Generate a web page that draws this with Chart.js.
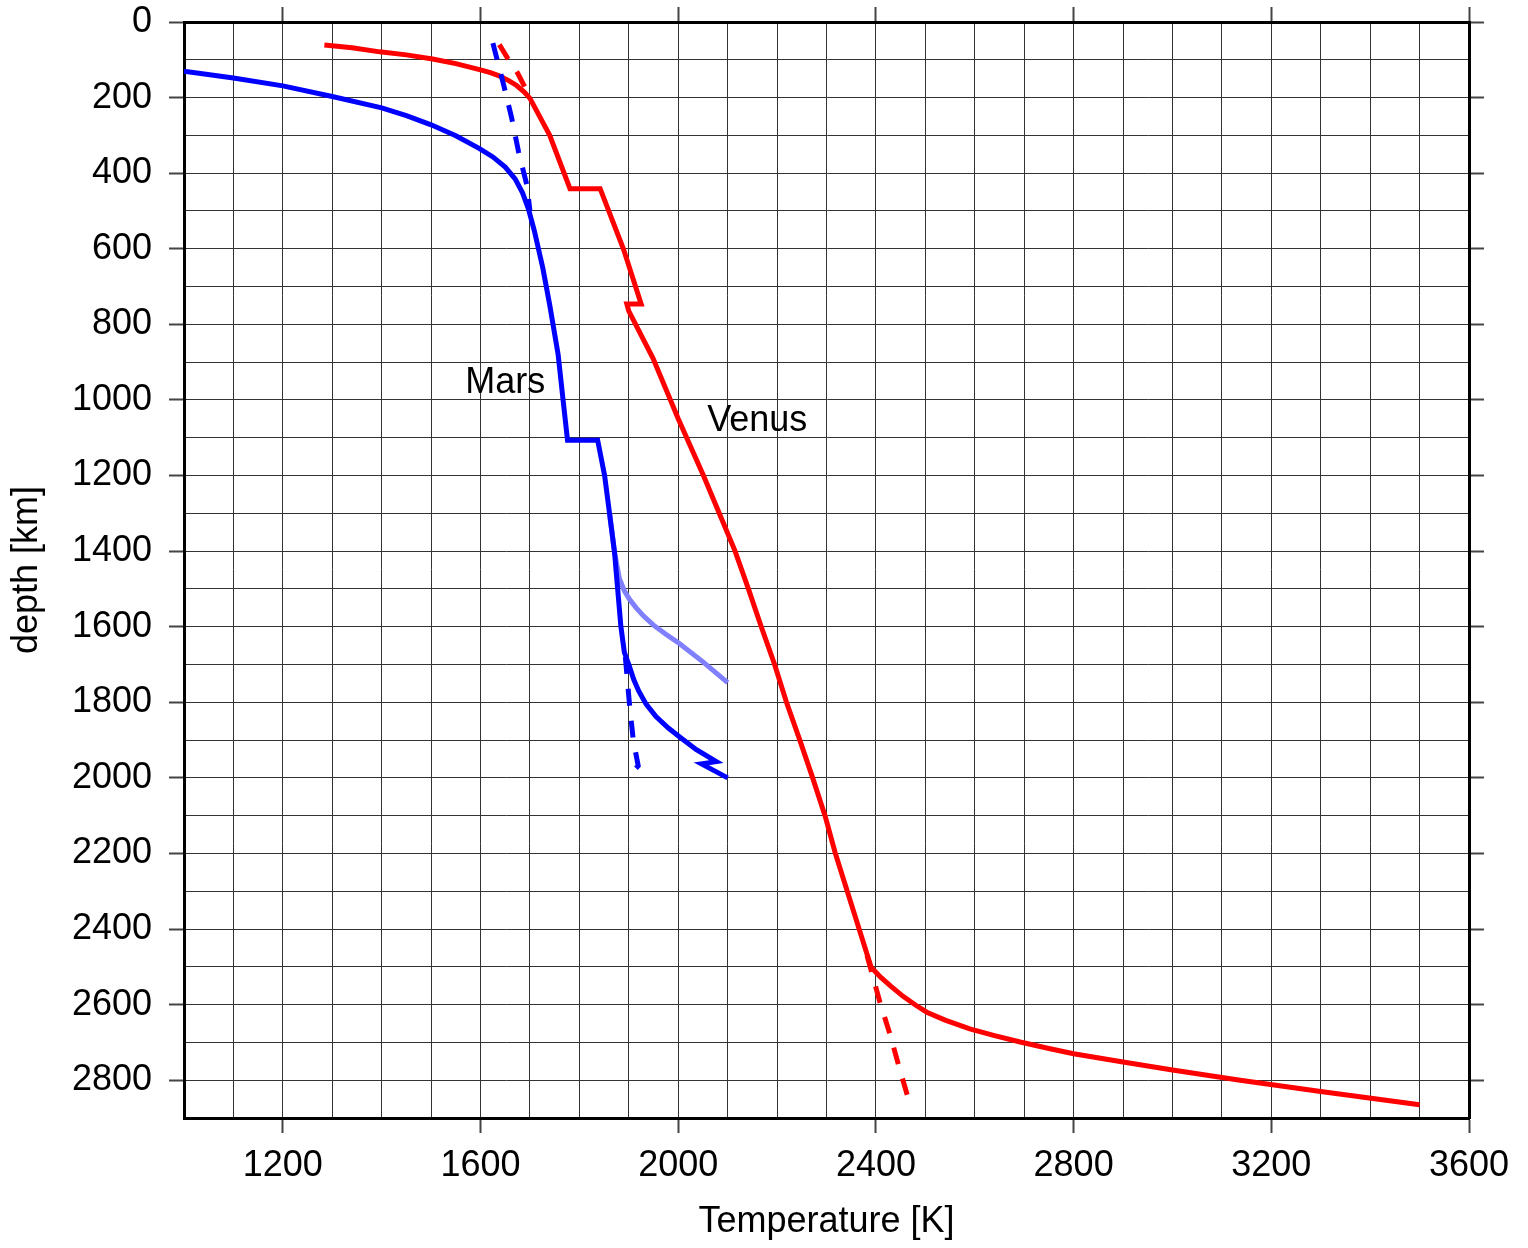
<!DOCTYPE html>
<html>
<head>
<meta charset="utf-8">
<title>Mars / Venus temperature profiles</title>
<script src="https://cdn.jsdelivr.net/npm/chart.js@4.4.0/dist/chart.umd.min.js"></script>
<style>
  html, body { margin: 0; padding: 0; background: #fff; }
  #wrap { width: 1528px; height: 1248px; }
</style>
</head>
<body>
<div id="wrap"><canvas id="chart" width="1528" height="1248"></canvas></div>
<script>
// temperature [K] / depth [km]
var mars_temp = [1000, 1100, 1200, 1300, 1400, 1450, 1500, 1550, 1598, 1625, 1650, 1670, 1685, 1697, 1709, 1726, 1740, 1757, 1767, 1776, 1837, 1851, 1861, 1871, 1884, 1891, 1900, 1910, 1920, 1935, 1955, 1980, 2003, 2036, 2077, 2047, 2100];
var mars_depth = [130, 148, 169, 197, 227, 248, 272, 301, 335, 357, 384, 415, 452, 495, 553, 651, 749, 880, 1000, 1107, 1107, 1200, 1300, 1402, 1600, 1668, 1700, 1740, 1770, 1805, 1838, 1868, 1892, 1925, 1957, 1963, 2000];

var mars_alt_temp = [1861, 1871, 1881, 1891, 1901, 1915, 1930, 1950, 1975, 2003, 2050, 2100];
var mars_alt_depth = [1300, 1402, 1473, 1505, 1527, 1550, 1572, 1596, 1620, 1645, 1693, 1748];

var mars_top_adiabat_temp = [1625, 1647, 1663, 1677, 1694, 1700];
var mars_top_adiabat_depth = [56, 168, 254, 344, 433, 500];
var mars_bottom_adiabat_temp = [1893, 1901, 1909, 1919, 1898];
var mars_bottom_adiabat_depth = [1680, 1800, 1900, 1968, 1998];

var venus_temp = [1284, 1340, 1396, 1450, 1503, 1550, 1598, 1620, 1639, 1657, 1673, 1688, 1700, 1740, 1781, 1842, 1889, 1925, 1896, 1900, 1949, 2000, 2051, 2083, 2115, 2142, 2168, 2195, 2219, 2246, 2272, 2297, 2318, 2342, 2366, 2390, 2398, 2410, 2430, 2455, 2480, 2503, 2540, 2590, 2640, 2692, 2750, 2800, 2900, 3000, 3137, 3300, 3500];
var venus_depth = [61, 68, 79, 87, 98, 110, 126, 134, 143, 155, 168, 185, 202, 300, 441, 441, 600, 746, 746, 765, 890, 1050, 1200, 1300, 1400, 1500, 1600, 1700, 1800, 1900, 2000, 2100, 2200, 2300, 2400, 2500, 2512, 2528, 2551, 2578, 2601, 2620, 2641, 2664, 2682, 2699, 2716, 2730, 2752, 2773, 2800, 2830, 2865];

var venus_top_adiabat_temp = [1638, 1655, 1675, 1692, 1700];
var venus_top_adiabat_depth = [60, 96, 135, 178, 203];
var venus_bottom_adiabat_temp = [2382, 2408, 2429, 2446, 2468];
var venus_bottom_adiabat_depth = [2470, 2593, 2681, 2761, 2860];

var label_names = ["Mars", "Venus"];
var label_temps = [1650, 2160];
var label_depths = [955, 1055];

var temp_min = 1000, temp_max = 3600, temp_step = 100, temp_label_step = 400;
var depth_min = 0, depth_max = 2900, depth_step = 100, depth_label_step = 200;

var font_family = '"Liberation Sans", Arial, Helvetica, sans-serif';

var to_points = function(xs, ys) {
  var pts = [];
  for (var i = 0; i < xs.length; i++) {
    pts.push({x: xs[i], y: ys[i]});
  }
  return pts;
};

var make_line = function(xs, ys, color, width, dash) {
  return {
    data: to_points(xs, ys),
    showLine: true,
    fill: false,
    tension: 0,
    borderColor: color,
    backgroundColor: color,
    borderWidth: width,
    borderDash: dash || [],
    borderCapStyle: "butt",
    borderJoinStyle: "miter",
    pointRadius: 0,
    pointHoverRadius: 0
  };
};

var temp_labeled = function(v) {
  return v % temp_label_step === 0 && v !== temp_min;
};
var depth_labeled = function(v) {
  return v % depth_label_step === 0;
};

var tick_color = function(test) {
  return function(c) {
    return (c.tick && test(c.tick.value)) ? "#444" : "rgba(0,0,0,0)";
  };
};

// fixed axis sizes so the plot frame sits where the original one is
var fix_size = function(prop, size) {
  return function(scale) {
    scale[prop] = size;
    scale.paddingTop = 0;
    scale.paddingBottom = 0;
    scale.paddingLeft = 0;
    scale.paddingRight = 0;
  };
};

// draws the "Mars" / "Venus" texts at data positions
var curve_labels_plugin = {
  id: "curve_labels",
  afterDatasetsDraw: function(chart) {
    var ctx = chart.ctx;
    ctx.save();
    ctx.font = "36px " + font_family;
    ctx.fillStyle = "#000";
    ctx.textAlign = "center";
    ctx.textBaseline = "middle";
    for (var i = 0; i < label_names.length; i++) {
      ctx.fillText(label_names[i],
        chart.scales.x.getPixelForValue(label_temps[i]),
        chart.scales.y.getPixelForValue(label_depths[i]));
    }
    ctx.restore();
  }
};

// dataset 0 is drawn on top
var datasets = [
  make_line(mars_top_adiabat_temp, mars_top_adiabat_depth, "#0000ff", 5, [17, 15]),
  make_line(mars_bottom_adiabat_temp, mars_bottom_adiabat_depth, "#0000ff", 5, [17, 15]),
  make_line(venus_top_adiabat_temp, venus_top_adiabat_depth, "#ff0000", 5, [17, 15]),
  make_line(venus_bottom_adiabat_temp, venus_bottom_adiabat_depth, "#ff0000", 5, [17, 15]),
  make_line(mars_temp, mars_depth, "#0000ff", 5),
  make_line(mars_alt_temp, mars_alt_depth, "#8080ff", 5),
  make_line(venus_temp, venus_depth, "#ff0000", 5)
];

var chart = new Chart("chart", {
  type: "scatter",
  data: { datasets: datasets },
  plugins: [curve_labels_plugin],
  options: {
    responsive: false,
    animation: false,
    devicePixelRatio: 1,
    layout: { padding: 0 },
    plugins: {
      legend: { display: false },
      tooltip: { enabled: false }
    },
    scales: {
      x: {
        type: "linear",
        position: "bottom",
        min: temp_min,
        max: temp_max,
        afterFit: fix_size("height", 130),
        ticks: {
          stepSize: temp_step,
          autoSkip: false,
          maxRotation: 0,
          padding: 11,
          color: "#000",
          font: { family: font_family, size: 36 },
          callback: function(v) { return temp_labeled(v) ? String(v) : ""; }
        },
        grid: {
          color: "#333",
          lineWidth: 1,
          tickLength: 15,
          tickWidth: 2,
          tickColor: tick_color(temp_labeled)
        },
        border: { display: true, color: "#000", width: 3 },
        title: {
          display: true,
          text: "Temperature [K]",
          color: "#000",
          font: { family: font_family, size: 36 },
          padding: { top: 0, bottom: 4 }
        }
      },
      x2: {
        type: "linear",
        position: "top",
        min: temp_min,
        max: temp_max,
        afterFit: fix_size("height", 22),
        ticks: { display: false, stepSize: temp_step, autoSkip: false },
        grid: {
          drawOnChartArea: false,
          tickLength: 15,
          tickWidth: 2,
          tickColor: tick_color(temp_labeled)
        },
        border: { display: true, color: "#000", width: 3 }
      },
      y: {
        type: "linear",
        position: "left",
        reverse: true,
        min: depth_min,
        max: depth_max,
        afterFit: fix_size("width", 184),
        ticks: {
          stepSize: depth_step,
          autoSkip: false,
          padding: 17,
          color: "#000",
          font: { family: font_family, size: 36 },
          callback: function(v) { return depth_labeled(v) ? String(v) : ""; }
        },
        grid: {
          color: "#333",
          lineWidth: 1,
          tickLength: 15,
          tickWidth: 2,
          tickColor: tick_color(depth_labeled)
        },
        border: { display: true, color: "#000", width: 3 },
        title: {
          display: true,
          text: "depth [km]",
          color: "#000",
          font: { family: font_family, size: 36 },
          padding: { top: 5, bottom: 0 }
        }
      },
      y2: {
        type: "linear",
        position: "right",
        reverse: true,
        min: depth_min,
        max: depth_max,
        afterFit: fix_size("width", 59),
        ticks: { display: false, stepSize: depth_step, autoSkip: false },
        grid: {
          drawOnChartArea: false,
          tickLength: 15,
          tickWidth: 2,
          tickColor: tick_color(depth_labeled)
        },
        border: { display: true, color: "#000", width: 3 }
      }
    }
  }
});
</script>
</body>
</html>
